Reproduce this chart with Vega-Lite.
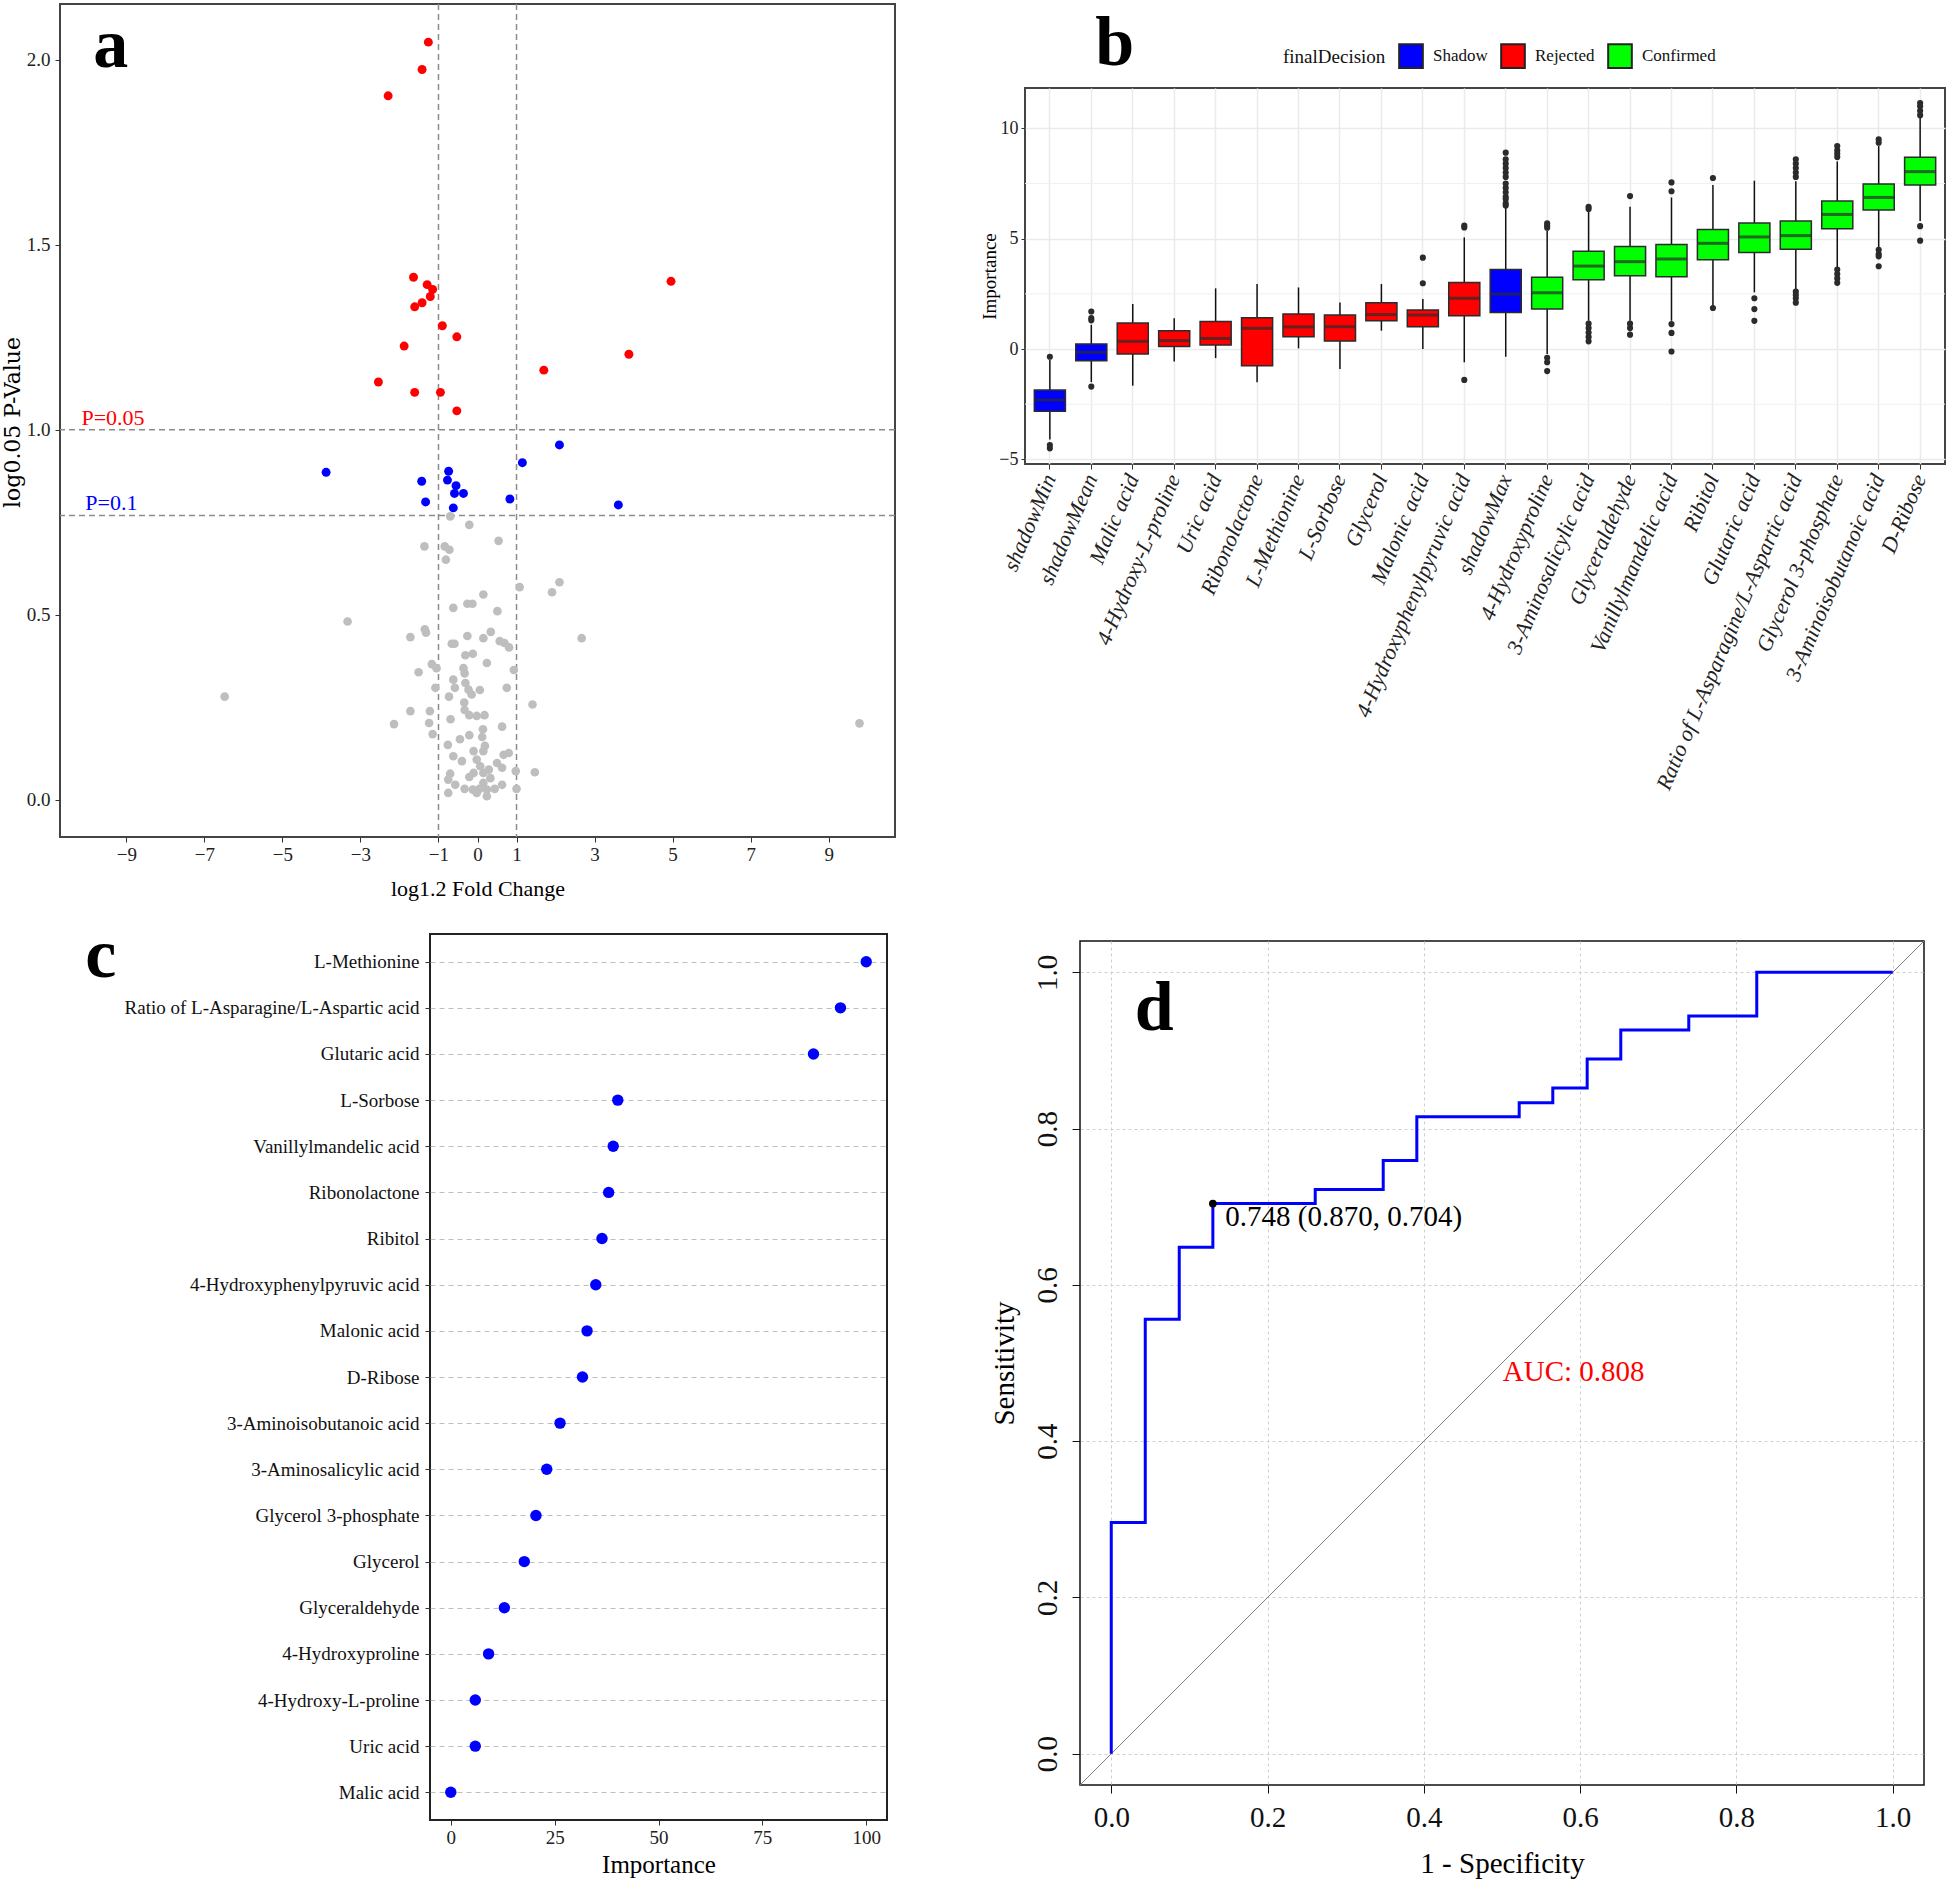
{
  "$schema": "https://vega.github.io/schema/vega-lite/v6.json",
  "background": "white",
  "padding": {"left": 0, "top": 0, "right": 0, "bottom": 0},
  "config": {
    "font": "Liberation Serif",
    "view": {"stroke": "#333333", "strokeWidth": 2},
    "axis": {"labelFont": "Liberation Serif", "titleFont": "Liberation Serif", "labelColor": "#222222", "titleColor": "#000000", "tickColor": "#333333", "domain": false, "grid": false, "titleFontWeight": "normal"}
  },
  "datasets": {
    "volcano": [
      {"fc": -1.26, "p": 2.047, "g": "sig"}, {"fc": -1.42, "p": 1.973, "g": "sig"}, {"fc": -2.29, "p": 1.902, "g": "sig"},
      {"fc": -1.64, "p": 1.412, "g": "sig"}, {"fc": -1.29, "p": 1.392, "g": "sig"}, {"fc": -1.15, "p": 1.379, "g": "sig"},
      {"fc": -1.21, "p": 1.36, "g": "sig"}, {"fc": -1.42, "p": 1.343, "g": "sig"}, {"fc": -1.61, "p": 1.332, "g": "sig"},
      {"fc": 4.96, "p": 1.401, "g": "sig"}, {"fc": -0.9, "p": 1.281, "g": "sig"}, {"fc": -0.53, "p": 1.251, "g": "sig"},
      {"fc": -1.88, "p": 1.226, "g": "sig"}, {"fc": 3.88, "p": 1.204, "g": "sig"}, {"fc": 1.7, "p": 1.161, "g": "sig"},
      {"fc": -2.54, "p": 1.129, "g": "sig"}, {"fc": -1.61, "p": 1.101, "g": "sig"}, {"fc": -0.95, "p": 1.101, "g": "sig"},
      {"fc": -0.53, "p": 1.051, "g": "sig"},
      {"fc": 2.1, "p": 0.959, "g": "trend"}, {"fc": 1.15, "p": 0.911, "g": "trend"}, {"fc": -3.88, "p": 0.885, "g": "trend"},
      {"fc": -0.74, "p": 0.888, "g": "trend"}, {"fc": -0.77, "p": 0.864, "g": "trend"}, {"fc": -1.43, "p": 0.861, "g": "trend"},
      {"fc": -0.55, "p": 0.849, "g": "trend"}, {"fc": -0.59, "p": 0.828, "g": "trend"}, {"fc": -0.36, "p": 0.828, "g": "trend"},
      {"fc": -1.33, "p": 0.805, "g": "trend"}, {"fc": 0.83, "p": 0.813, "g": "trend"}, {"fc": 3.61, "p": 0.797, "g": "trend"},
      {"fc": -0.62, "p": 0.789, "g": "trend"},
      {"fc": -0.7, "p": 0.766, "g": "ns"}, {"fc": -0.21, "p": 0.743, "g": "ns"}, {"fc": -1.36, "p": 0.685, "g": "ns"},
      {"fc": -0.84, "p": 0.685, "g": "ns"}, {"fc": -0.72, "p": 0.676, "g": "ns"}, {"fc": -0.81, "p": 0.649, "g": "ns"},
      {"fc": 0.54, "p": 0.7, "g": "ns"}, {"fc": 1.08, "p": 0.575, "g": "ns"}, {"fc": 1.91, "p": 0.561, "g": "ns"},
      {"fc": 2.1, "p": 0.588, "g": "ns"}, {"fc": 0.15, "p": 0.555, "g": "ns"}, {"fc": -0.26, "p": 0.53, "g": "ns"},
      {"fc": -0.13, "p": 0.53, "g": "ns"}, {"fc": -0.62, "p": 0.519, "g": "ns"}, {"fc": 0.51, "p": 0.51, "g": "ns"},
      {"fc": -1.72, "p": 0.44, "g": "ns"}, {"fc": -1.35, "p": 0.461, "g": "ns"}, {"fc": -1.32, "p": 0.452, "g": "ns"},
      {"fc": -0.66, "p": 0.422, "g": "ns"}, {"fc": -0.59, "p": 0.422, "g": "ns"}, {"fc": -0.26, "p": 0.443, "g": "ns"},
      {"fc": 0.15, "p": 0.437, "g": "ns"}, {"fc": 0.34, "p": 0.454, "g": "ns"}, {"fc": 0.57, "p": 0.429, "g": "ns"},
      {"fc": 0.69, "p": 0.424, "g": "ns"}, {"fc": 0.81, "p": 0.412, "g": "ns"}, {"fc": 2.67, "p": 0.437, "g": "ns"},
      {"fc": -0.31, "p": 0.391, "g": "ns"}, {"fc": -0.12, "p": 0.395, "g": "ns"}, {"fc": 0.24, "p": 0.37, "g": "ns"},
      {"fc": -1.17, "p": 0.367, "g": "ns"}, {"fc": -1.05, "p": 0.356, "g": "ns"}, {"fc": -1.51, "p": 0.345, "g": "ns"},
      {"fc": -0.36, "p": 0.356, "g": "ns"}, {"fc": -0.33, "p": 0.342, "g": "ns"}, {"fc": 0.93, "p": 0.351, "g": "ns"},
      {"fc": -0.62, "p": 0.325, "g": "ns"}, {"fc": -0.58, "p": 0.303, "g": "ns"}, {"fc": -0.31, "p": 0.316, "g": "ns"},
      {"fc": -0.23, "p": 0.298, "g": "ns"}, {"fc": -0.15, "p": 0.285, "g": "ns"}, {"fc": 0.06, "p": 0.297, "g": "ns"},
      {"fc": 0.75, "p": 0.303, "g": "ns"}, {"fc": -1.08, "p": 0.303, "g": "ns"}, {"fc": -0.73, "p": 0.279, "g": "ns"},
      {"fc": -0.34, "p": 0.263, "g": "ns"}, {"fc": -0.33, "p": 0.243, "g": "ns"}, {"fc": -0.21, "p": 0.229, "g": "ns"},
      {"fc": -0.02, "p": 0.227, "g": "ns"}, {"fc": 0.18, "p": 0.229, "g": "ns"}, {"fc": 1.41, "p": 0.258, "g": "ns"},
      {"fc": -1.72, "p": 0.24, "g": "ns"}, {"fc": -1.22, "p": 0.24, "g": "ns"}, {"fc": -2.14, "p": 0.205, "g": "ns"},
      {"fc": -1.24, "p": 0.208, "g": "ns"}, {"fc": -1.15, "p": 0.178, "g": "ns"}, {"fc": -0.69, "p": 0.218, "g": "ns"},
      {"fc": 0.63, "p": 0.198, "g": "ns"}, {"fc": 0.14, "p": 0.191, "g": "ns"}, {"fc": -0.45, "p": 0.164, "g": "ns"},
      {"fc": -0.21, "p": 0.175, "g": "ns"}, {"fc": -0.76, "p": 0.149, "g": "ns"}, {"fc": 0.12, "p": 0.17, "g": "ns"},
      {"fc": -0.62, "p": 0.118, "g": "ns"}, {"fc": -0.4, "p": 0.105, "g": "ns"}, {"fc": -0.1, "p": 0.132, "g": "ns"},
      {"fc": 0.15, "p": 0.132, "g": "ns"}, {"fc": 0.19, "p": 0.146, "g": "ns"}, {"fc": -0.02, "p": 0.109, "g": "ns"},
      {"fc": 0.07, "p": 0.091, "g": "ns"}, {"fc": 0.15, "p": 0.073, "g": "ns"}, {"fc": 0.29, "p": 0.082, "g": "ns"},
      {"fc": 0.5, "p": 0.1, "g": "ns"}, {"fc": 0.63, "p": 0.087, "g": "ns"}, {"fc": 0.67, "p": 0.122, "g": "ns"},
      {"fc": 0.8, "p": 0.127, "g": "ns"}, {"fc": -0.1, "p": 0.073, "g": "ns"}, {"fc": -0.21, "p": 0.062, "g": "ns"},
      {"fc": -0.7, "p": 0.071, "g": "ns"}, {"fc": -0.75, "p": 0.055, "g": "ns"}, {"fc": -0.57, "p": 0.041, "g": "ns"},
      {"fc": -0.33, "p": 0.03, "g": "ns"}, {"fc": -0.12, "p": 0.028, "g": "ns"}, {"fc": 0.05, "p": 0.03, "g": "ns"},
      {"fc": 0.24, "p": 0.01, "g": "ns"}, {"fc": 0.44, "p": 0.03, "g": "ns"}, {"fc": 0.63, "p": 0.041, "g": "ns"},
      {"fc": 0.15, "p": 0.046, "g": "ns"}, {"fc": 0.33, "p": 0.059, "g": "ns"}, {"fc": -0.75, "p": 0.019, "g": "ns"},
      {"fc": 0.98, "p": 0.078, "g": "ns"}, {"fc": 1.0, "p": 0.03, "g": "ns"}, {"fc": 1.47, "p": 0.075, "g": "ns"},
      {"fc": -0.02, "p": 0.019, "g": "ns"}, {"fc": 0.24, "p": 0.028, "g": "ns"}, {"fc": -3.33, "p": 0.482, "g": "ns"},
      {"fc": -6.48, "p": 0.279, "g": "ns"}, {"fc": 9.79, "p": 0.207, "g": "ns"}
    ],
    "boxes": [
      {"name": "shadowMin", "decision": "Shadow", "lo": -4.1, "q1": -2.82, "med": -2.31, "q3": -1.86, "hi": -0.5},
      {"name": "shadowMean", "decision": "Shadow", "lo": -1.5, "q1": -0.53, "med": -0.15, "q3": 0.23, "hi": 1.1},
      {"name": "Malic acid", "decision": "Rejected", "lo": -1.66, "q1": -0.23, "med": 0.35, "q3": 1.18, "hi": 2.04},
      {"name": "4-Hydroxy-L-proline", "decision": "Rejected", "lo": -0.56, "q1": 0.11, "med": 0.38, "q3": 0.83, "hi": 1.4},
      {"name": "Uric acid", "decision": "Rejected", "lo": -0.41, "q1": 0.18, "med": 0.48, "q3": 1.25, "hi": 2.75},
      {"name": "Ribonolactone", "decision": "Rejected", "lo": -1.51, "q1": -0.76, "med": 0.94, "q3": 1.42, "hi": 2.95},
      {"name": "L-Methionine", "decision": "Rejected", "lo": 0.03, "q1": 0.56, "med": 1.0, "q3": 1.59, "hi": 2.79},
      {"name": "L-Sorbose", "decision": "Rejected", "lo": -0.91, "q1": 0.36, "med": 1.01, "q3": 1.54, "hi": 2.11},
      {"name": "Glycerol", "decision": "Rejected", "lo": 0.83, "q1": 1.28, "med": 1.56, "q3": 2.1, "hi": 2.95},
      {"name": "Malonic acid", "decision": "Rejected", "lo": 0.0, "q1": 1.01, "med": 1.54, "q3": 1.77, "hi": 2.27},
      {"name": "4-Hydroxyphenylpyruvic acid", "decision": "Rejected", "lo": -0.6, "q1": 1.51, "med": 2.3, "q3": 3.02, "hi": 5.06},
      {"name": "shadowMax", "decision": "Shadow", "lo": -0.35, "q1": 1.66, "med": 2.49, "q3": 3.61, "hi": 6.42},
      {"name": "4-Hydroxyproline", "decision": "Confirmed", "lo": -0.23, "q1": 1.81, "med": 2.55, "q3": 3.25, "hi": 5.36},
      {"name": "3-Aminosalicylic acid", "decision": "Confirmed", "lo": 1.28, "q1": 3.14, "med": 3.76, "q3": 4.43, "hi": 6.27},
      {"name": "Glyceraldehyde", "decision": "Confirmed", "lo": 1.28, "q1": 3.32, "med": 3.96, "q3": 4.65, "hi": 6.45},
      {"name": "Vanillylmandelic acid", "decision": "Confirmed", "lo": 1.28, "q1": 3.28, "med": 4.08, "q3": 4.74, "hi": 6.87},
      {"name": "Ribitol", "decision": "Confirmed", "lo": 1.96, "q1": 4.05, "med": 4.79, "q3": 5.42, "hi": 7.43},
      {"name": "Glutaric acid", "decision": "Confirmed", "lo": 2.57, "q1": 4.37, "med": 5.08, "q3": 5.71, "hi": 7.63},
      {"name": "Ratio of L-Asparagine/L-Aspartic acid", "decision": "Confirmed", "lo": 2.64, "q1": 4.52, "med": 5.14, "q3": 5.8, "hi": 7.6},
      {"name": "Glycerol 3-phosphate", "decision": "Confirmed", "lo": 3.7, "q1": 5.45, "med": 6.1, "q3": 6.71, "hi": 8.5},
      {"name": "3-Aminoisobutanoic acid", "decision": "Confirmed", "lo": 4.61, "q1": 6.3, "med": 6.87, "q3": 7.48, "hi": 9.2},
      {"name": "D-Ribose", "decision": "Confirmed", "lo": 5.8, "q1": 7.43, "med": 8.04, "q3": 8.69, "hi": 10.5}
    ],
    "outliers": [
      {"name": "shadowMin", "v": -0.35}, {"name": "shadowMin", "v": -4.35}, {"name": "shadowMin", "v": -4.5},
      {"name": "shadowMean", "v": 1.3}, {"name": "shadowMean", "v": 1.4}, {"name": "shadowMean", "v": 1.7}, {"name": "shadowMean", "v": -1.7},
      {"name": "Malonic acid", "v": 2.98}, {"name": "Malonic acid", "v": 4.14},
      {"name": "4-Hydroxyphenylpyruvic acid", "v": 5.51}, {"name": "4-Hydroxyphenylpyruvic acid", "v": 5.6}, {"name": "4-Hydroxyphenylpyruvic acid", "v": -1.4},
      {"name": "shadowMax", "v": 6.5}, {"name": "shadowMax", "v": 6.6}, {"name": "shadowMax", "v": 6.8}, {"name": "shadowMax", "v": 6.9},
      {"name": "shadowMax", "v": 7.1}, {"name": "shadowMax", "v": 7.3}, {"name": "shadowMax", "v": 7.5}, {"name": "shadowMax", "v": 7.8},
      {"name": "shadowMax", "v": 8.0}, {"name": "shadowMax", "v": 8.2}, {"name": "shadowMax", "v": 8.4}, {"name": "shadowMax", "v": 8.6},
      {"name": "shadowMax", "v": 8.9},
      {"name": "4-Hydroxyproline", "v": 5.5}, {"name": "4-Hydroxyproline", "v": 5.6}, {"name": "4-Hydroxyproline", "v": 5.7},
      {"name": "4-Hydroxyproline", "v": -0.4}, {"name": "4-Hydroxyproline", "v": -0.6}, {"name": "4-Hydroxyproline", "v": -1.0},
      {"name": "3-Aminosalicylic acid", "v": 6.35}, {"name": "3-Aminosalicylic acid", "v": 6.45}, {"name": "3-Aminosalicylic acid", "v": 1.15},
      {"name": "3-Aminosalicylic acid", "v": 0.95}, {"name": "3-Aminosalicylic acid", "v": 0.75}, {"name": "3-Aminosalicylic acid", "v": 0.55},
      {"name": "3-Aminosalicylic acid", "v": 0.35},
      {"name": "Glyceraldehyde", "v": 6.93}, {"name": "Glyceraldehyde", "v": 1.15}, {"name": "Glyceraldehyde", "v": 0.95}, {"name": "Glyceraldehyde", "v": 0.65},
      {"name": "Vanillylmandelic acid", "v": 7.15}, {"name": "Vanillylmandelic acid", "v": 7.55}, {"name": "Vanillylmandelic acid", "v": 1.13},
      {"name": "Vanillylmandelic acid", "v": 0.73}, {"name": "Vanillylmandelic acid", "v": -0.11},
      {"name": "Ribitol", "v": 7.75}, {"name": "Ribitol", "v": 1.86},
      {"name": "Glutaric acid", "v": 2.3}, {"name": "Glutaric acid", "v": 1.81}, {"name": "Glutaric acid", "v": 1.28},
      {"name": "Ratio of L-Asparagine/L-Aspartic acid", "v": 7.8}, {"name": "Ratio of L-Asparagine/L-Aspartic acid", "v": 8.0},
      {"name": "Ratio of L-Asparagine/L-Aspartic acid", "v": 8.2}, {"name": "Ratio of L-Asparagine/L-Aspartic acid", "v": 8.4},
      {"name": "Ratio of L-Asparagine/L-Aspartic acid", "v": 8.6}, {"name": "Ratio of L-Asparagine/L-Aspartic acid", "v": 2.6},
      {"name": "Ratio of L-Asparagine/L-Aspartic acid", "v": 2.45}, {"name": "Ratio of L-Asparagine/L-Aspartic acid", "v": 2.3},
      {"name": "Ratio of L-Asparagine/L-Aspartic acid", "v": 2.1},
      {"name": "Glycerol 3-phosphate", "v": 8.7}, {"name": "Glycerol 3-phosphate", "v": 8.85}, {"name": "Glycerol 3-phosphate", "v": 9.0},
      {"name": "Glycerol 3-phosphate", "v": 9.2}, {"name": "Glycerol 3-phosphate", "v": 3.6}, {"name": "Glycerol 3-phosphate", "v": 3.4},
      {"name": "Glycerol 3-phosphate", "v": 3.2}, {"name": "Glycerol 3-phosphate", "v": 3.0},
      {"name": "3-Aminoisobutanoic acid", "v": 9.35}, {"name": "3-Aminoisobutanoic acid", "v": 9.5}, {"name": "3-Aminoisobutanoic acid", "v": 4.5},
      {"name": "3-Aminoisobutanoic acid", "v": 4.3}, {"name": "3-Aminoisobutanoic acid", "v": 4.2}, {"name": "3-Aminoisobutanoic acid", "v": 3.75},
      {"name": "D-Ribose", "v": 10.6}, {"name": "D-Ribose", "v": 10.8}, {"name": "D-Ribose", "v": 11.0}, {"name": "D-Ribose", "v": 11.15},
      {"name": "D-Ribose", "v": 5.57}, {"name": "D-Ribose", "v": 4.91}
    ],
    "importance": [
      {"name": "L-Methionine", "imp": 100}, {"name": "Ratio of L-Asparagine/L-Aspartic acid", "imp": 93.8},
      {"name": "Glutaric acid", "imp": 87.3}, {"name": "L-Sorbose", "imp": 40.2}, {"name": "Vanillylmandelic acid", "imp": 39.1},
      {"name": "Ribonolactone", "imp": 38.0}, {"name": "Ribitol", "imp": 36.4}, {"name": "4-Hydroxyphenylpyruvic acid", "imp": 34.9},
      {"name": "Malonic acid", "imp": 32.8}, {"name": "D-Ribose", "imp": 31.7}, {"name": "3-Aminoisobutanoic acid", "imp": 26.3},
      {"name": "3-Aminosalicylic acid", "imp": 23.1}, {"name": "Glycerol 3-phosphate", "imp": 20.5}, {"name": "Glycerol", "imp": 17.7},
      {"name": "Glyceraldehyde", "imp": 12.9}, {"name": "4-Hydroxyproline", "imp": 9.1}, {"name": "4-Hydroxy-L-proline", "imp": 5.9},
      {"name": "Uric acid", "imp": 5.9}, {"name": "Malic acid", "imp": 0}
    ],
    "roc": [
      {"ord": 0, "fpr": 0, "tpr": 0}, {"ord": 1, "fpr": 0, "tpr": 0.296}, {"ord": 2, "fpr": 0.0435, "tpr": 0.556},
      {"ord": 3, "fpr": 0.087, "tpr": 0.648}, {"ord": 4, "fpr": 0.13, "tpr": 0.704}, {"ord": 5, "fpr": 0.261, "tpr": 0.722},
      {"ord": 6, "fpr": 0.348, "tpr": 0.759}, {"ord": 7, "fpr": 0.391, "tpr": 0.815}, {"ord": 8, "fpr": 0.522, "tpr": 0.833},
      {"ord": 9, "fpr": 0.565, "tpr": 0.852}, {"ord": 10, "fpr": 0.609, "tpr": 0.889}, {"ord": 11, "fpr": 0.652, "tpr": 0.926},
      {"ord": 12, "fpr": 0.739, "tpr": 0.944}, {"ord": 13, "fpr": 0.826, "tpr": 1.0}, {"ord": 14, "fpr": 1.0, "tpr": 1.0}
    ]
  },
  "resolve": {"scale": {"color": "independent"}, "legend": {"color": "independent"}},
  "bounds": "full",
  "spacing": 19,
  "vconcat": [
    {
      "bounds": "flush",
      "spacing": 130,
      "resolve": {"scale": {"color": "independent"}, "legend": {"color": "independent"}},
      "hconcat": [
        {
          "width": 835,
          "height": 833,
          "view": {"stroke": "#444444", "strokeWidth": 2},
          "layer": [
            {
              "data": {"values": [{"fc": -1}, {"fc": 1}]},
              "mark": {"type": "rule", "color": "#8c8c8c", "strokeWidth": 1.5, "strokeDash": [6, 4]},
              "encoding": {"x": {"field": "fc", "type": "quantitative", "scale": {"domain": [-10.7, 10.7], "nice": false, "zero": false}}}
            },
            {
              "data": {"values": [{"p": 1.0}, {"p": 0.7686}]},
              "mark": {"type": "rule", "color": "#8c8c8c", "strokeWidth": 1.5, "strokeDash": [6, 4]},
              "encoding": {"y": {"field": "p", "type": "quantitative", "scale": {"domain": [-0.1, 2.15], "nice": false, "zero": false}}}
            },
            {
              "data": {"name": "volcano"},
              "transform": [{"filter": "datum.g === 'ns'"}],
              "mark": {"type": "circle", "size": 75, "opacity": 1, "color": "#BEBEBE"},
              "encoding": {
                "x": {"field": "fc", "type": "quantitative", "scale": {"domain": [-10.7, 10.7], "nice": false, "zero": false},
                  "axis": {"values": [-9, -7, -5, -3, -1, 0, 1, 3, 5, 7, 9], "title": "log1.2 Fold Change", "labelFontSize": 19, "titleFontSize": 22, "tickSize": 5, "labelPadding": 3, "titleBaseline": "alphabetic", "titleY": 58}},
                "y": {"field": "p", "type": "quantitative", "scale": {"domain": [-0.1, 2.15], "nice": false, "zero": false},
                  "axis": {"values": [0, 0.5, 1, 1.5, 2], "format": ".1f", "title": "log0.05 P-Value", "titleFont": "DejaVu Serif", "titleFontSize": 22, "labelFontSize": 19, "tickSize": 5, "labelPadding": 5, "titleAngle": 270, "titleBaseline": "alphabetic", "titleX": -41, "titleY": 418}}
              }
            },
            {
              "data": {"name": "volcano"},
              "transform": [{"filter": "datum.g === 'trend'"}],
              "mark": {"type": "circle", "size": 80, "opacity": 1, "color": "#0000FF"},
              "encoding": {
                "x": {"field": "fc", "type": "quantitative"},
                "y": {"field": "p", "type": "quantitative"}
              }
            },
            {
              "data": {"name": "volcano"},
              "transform": [{"filter": "datum.g === 'sig'"}],
              "mark": {"type": "circle", "size": 80, "opacity": 1, "color": "#FF0000"},
              "encoding": {
                "x": {"field": "fc", "type": "quantitative"},
                "y": {"field": "p", "type": "quantitative"}
              }
            },
            {
              "data": {"values": [{}]},
              "mark": {"type": "text", "color": "#FF0000", "align": "left", "baseline": "alphabetic", "fontSize": 22, "font": "Liberation Serif"},
              "encoding": {"x": {"datum": -10.15}, "y": {"datum": 1.012}, "text": {"value": "P=0.05"}}
            },
            {
              "data": {"values": [{}]},
              "mark": {"type": "text", "color": "#0000FF", "align": "left", "baseline": "alphabetic", "fontSize": 22, "font": "Liberation Serif"},
              "encoding": {"x": {"datum": -10.05}, "y": {"datum": 0.782}, "text": {"value": "P=0.1"}}
            },
            {
              "data": {"values": [{}]},
              "mark": {"type": "text", "color": "#000000", "align": "left", "baseline": "alphabetic", "fontSize": 70, "fontWeight": "bold", "font": "Liberation Serif"},
              "encoding": {"x": {"datum": -9.85}, "y": {"datum": 1.981}, "text": {"value": "a"}}
            }
          ]
        },
        {
          "bounds": "flush",
          "spacing": 80,
          "resolve": {"scale": {"color": "independent"}, "legend": {"color": "independent"}},
          "vconcat": [
            {
              "width": 920,
              "height": 4,
              "view": {"stroke": null},
              "data": {"values": [{}]},
              "mark": {"type": "text"},
              "encoding": {"text": {"value": ""}}
            },
            {
              "width": 920,
              "height": 376,
              "view": {"stroke": "#444444", "strokeWidth": 2},
              "layer": [
                {
                  "data": {"values": [{"g": -2.5}, {"g": 2.5}, {"g": 7.5}]},
                  "mark": {"type": "rule", "color": "#F0F0F0", "strokeWidth": 1},
                  "encoding": {"y": {"field": "g", "type": "quantitative", "scale": {"domain": [-5.21, 11.83], "nice": false, "zero": false}}}
                },
                {
                  "data": {"name": "boxes"},
                  "mark": {"type": "rule", "color": "#111111", "strokeWidth": 1.5},
                  "encoding": {
                    "x": {"field": "name", "type": "nominal", "sort": null,
                      "scale": {"type": "band", "paddingInner": 0.25, "paddingOuter": 0.225, "domain": ["shadowMin", "shadowMean", "Malic acid", "4-Hydroxy-L-proline", "Uric acid", "Ribonolactone", "L-Methionine", "L-Sorbose", "Glycerol", "Malonic acid", "4-Hydroxyphenylpyruvic acid", "shadowMax", "4-Hydroxyproline", "3-Aminosalicylic acid", "Glyceraldehyde", "Vanillylmandelic acid", "Ribitol", "Glutaric acid", "Ratio of L-Asparagine/L-Aspartic acid", "Glycerol 3-phosphate", "3-Aminoisobutanoic acid", "D-Ribose"]},
                      "axis": {"title": null, "labelAngle": -67, "labelAlign": "right", "labelBaseline": "middle", "labelFontStyle": "italic", "labelFontSize": 22, "labelColor": "#222222", "tickSize": 5, "labelPadding": 6, "grid": true, "gridColor": "#EBEBEB", "gridWidth": 1.5, "bandPosition": 0.5, "labelLimit": 0}},
                    "y": {"field": "lo", "type": "quantitative", "scale": {"domain": [-5.21, 11.83], "nice": false, "zero": false},
                      "axis": {"values": [-5, 0, 5, 10], "title": "Importance", "titleFontSize": 19, "labelFontSize": 18, "tickSize": 4, "labelPadding": 3, "grid": true, "gridColor": "#EBEBEB", "gridWidth": 1.5, "titleAngle": 270, "titleBaseline": "alphabetic", "titleX": -30, "titleY": 188}},
                    "y2": {"field": "hi"}
                  }
                },
                {
                  "data": {"name": "boxes"},
                  "mark": {"type": "bar", "stroke": "#2b2b2b", "strokeWidth": 1.5},
                  "encoding": {
                    "x": {"field": "name", "type": "nominal", "sort": null},
                    "y": {"field": "q1", "type": "quantitative"},
                    "y2": {"field": "q3"},
                    "color": {"field": "decision", "type": "nominal",
                      "scale": {"domain": ["Shadow", "Rejected", "Confirmed"], "range": ["#0000FF", "#FF0000", "#00FF00"]},
                      "legend": {"orient": "none", "legendX": 258, "legendY": -45, "direction": "horizontal", "title": "finalDecision", "titleOrient": "left", "titleFont": "Liberation Serif", "titleFontSize": 19, "titleFontWeight": "normal", "titleColor": "#111111", "labelFont": "Liberation Serif", "labelFontSize": 17, "labelColor": "#111111", "symbolType": "square", "symbolSize": 560, "symbolStrokeWidth": 2, "symbolStrokeColor": "#222222", "symbolOpacity": 1, "labelOffset": 9, "columnPadding": 9, "titlePadding": 12, "titleBaseline": "middle"}}
                  }
                },
                {
                  "data": {"name": "boxes"},
                  "mark": {"type": "tick", "color": "#2b2b2b", "thickness": 3, "size": 31},
                  "encoding": {
                    "x": {"field": "name", "type": "nominal", "sort": null},
                    "y": {"field": "med", "type": "quantitative"}
                  }
                },
                {
                  "data": {"name": "outliers"},
                  "mark": {"type": "circle", "color": "#2b2b2b", "size": 38, "opacity": 1},
                  "encoding": {
                    "x": {"field": "name", "type": "nominal", "sort": null},
                    "y": {"field": "v", "type": "quantitative"}
                  }
                },
                {
                  "data": {"values": [{}]},
                  "mark": {"type": "text", "color": "#000000", "align": "left", "baseline": "alphabetic", "fontSize": 70, "fontWeight": "bold", "font": "Liberation Serif", "dx": 4},
                  "encoding": {"x": {"datum": "shadowMean"}, "y": {"datum": 12.85, "scale": {"domain": [-5.21, 11.83], "nice": false, "zero": false}}, "text": {"value": "b"}}
                }
              ]
            }
          ]
        }
      ]
    },
    {
      "bounds": "flush",
      "spacing": 193,
      "hconcat": [
        {
          "width": 177,
          "height": 4,
          "view": {"stroke": null},
          "data": {"values": [{}]},
          "mark": {"type": "text"},
          "encoding": {"text": {"value": ""}}
        },
        {
          "width": 457,
          "height": 886,
          "view": {"stroke": "#222222", "strokeWidth": 2},
          "layer": [
            {
              "data": {"name": "importance"},
              "mark": {"type": "circle", "size": 130, "color": "#0000FF", "opacity": 1},
              "encoding": {
                "x": {"field": "imp", "type": "quantitative", "scale": {"domain": [-5, 105], "nice": false, "zero": false},
                  "axis": {"values": [0, 25, 50, 75, 100], "title": "Importance", "labelFontSize": 19, "titleFontSize": 25, "tickSize": 5, "labelPadding": 3, "titleBaseline": "alphabetic", "titleY": 52}},
                "y": {"field": "name", "type": "nominal", "sort": null,
                  "scale": {"type": "point", "padding": 0.6, "domain": ["L-Methionine", "Ratio of L-Asparagine/L-Aspartic acid", "Glutaric acid", "L-Sorbose", "Vanillylmandelic acid", "Ribonolactone", "Ribitol", "4-Hydroxyphenylpyruvic acid", "Malonic acid", "D-Ribose", "3-Aminoisobutanoic acid", "3-Aminosalicylic acid", "Glycerol 3-phosphate", "Glycerol", "Glyceraldehyde", "4-Hydroxyproline", "4-Hydroxy-L-proline", "Uric acid", "Malic acid"]},
                  "axis": {"title": null, "labelFontSize": 19, "labelColor": "#111111", "tickSize": 5, "labelPadding": 6, "grid": true, "gridDash": [5, 4], "gridColor": "#BEBEBE", "gridWidth": 1, "labelLimit": 0}}
              }
            },
            {
              "data": {"values": [{}]},
              "mark": {"type": "text", "color": "#000000", "align": "left", "baseline": "alphabetic", "fontSize": 70, "fontWeight": "bold", "font": "Liberation Serif", "dy": 15},
              "encoding": {"x": {"datum": -88, "scale": {"domain": [-5, 105], "nice": false, "zero": false}}, "y": {"datum": "L-Methionine"}, "text": {"value": "c"}}
            }
          ]
        },
        {
          "bounds": "flush",
          "spacing": 6,
          "vconcat": [
            {
              "width": 844,
              "height": 1,
              "view": {"stroke": null},
              "data": {"values": [{}]},
              "mark": {"type": "text"},
              "encoding": {"text": {"value": ""}}
            },
            {
              "width": 844,
              "height": 844,
              "view": {"stroke": "#111111", "strokeWidth": 1.5},
              "layer": [
                {
                  "data": {"values": [{"fpr": -0.04, "tpr": -0.04}, {"fpr": 1.04, "tpr": 1.04}]},
                  "mark": {"type": "line", "color": "#808080", "strokeWidth": 1, "clip": true},
                  "encoding": {
                    "x": {"field": "fpr", "type": "quantitative", "scale": {"domain": [-0.04, 1.04], "nice": false, "zero": false},
                      "axis": {"values": [0, 0.2, 0.4, 0.6, 0.8, 1.0], "format": ".1f", "title": "1 - Specificity", "labelFontSize": 29, "titleFontSize": 29, "labelColor": "#111111", "tickSize": 8, "tickColor": "#111111", "labelPadding": 10, "grid": true, "gridDash": [3, 3], "gridColor": "#CFCFCF", "gridWidth": 1, "titleBaseline": "alphabetic", "titleY": 87}},
                    "y": {"field": "tpr", "type": "quantitative", "scale": {"domain": [-0.04, 1.04], "nice": false, "zero": false},
                      "axis": {"values": [0, 0.2, 0.4, 0.6, 0.8, 1.0], "format": ".1f", "title": "Sensitivity", "labelFontSize": 29, "titleFontSize": 29, "labelColor": "#111111", "tickSize": 8, "tickColor": "#111111", "labelAngle": -90, "labelAlign": "center", "labelBaseline": "alphabetic", "labelPadding": 16, "grid": true, "gridDash": [3, 3], "gridColor": "#CFCFCF", "gridWidth": 1, "titleAngle": 270, "titleBaseline": "alphabetic", "titleX": -67, "titleY": 422}}
                  }
                },
                {
                  "data": {"name": "roc"},
                  "mark": {"type": "line", "color": "#0000FF", "strokeWidth": 3, "interpolate": "step-after"},
                  "encoding": {
                    "x": {"field": "fpr", "type": "quantitative"},
                    "y": {"field": "tpr", "type": "quantitative"},
                    "order": {"field": "ord", "type": "quantitative"}
                  }
                },
                {
                  "data": {"values": [{}]},
                  "mark": {"type": "circle", "color": "#000000", "size": 60, "opacity": 1},
                  "encoding": {"x": {"datum": 0.13}, "y": {"datum": 0.704}}
                },
                {
                  "data": {"values": [{}]},
                  "mark": {"type": "text", "color": "#000000", "align": "left", "baseline": "alphabetic", "fontSize": 29, "font": "Liberation Serif"},
                  "encoding": {"x": {"datum": 0.146}, "y": {"datum": 0.675}, "text": {"value": "0.748 (0.870, 0.704)"}}
                },
                {
                  "data": {"values": [{}]},
                  "mark": {"type": "text", "color": "#FF0000", "align": "left", "baseline": "alphabetic", "fontSize": 29, "font": "Liberation Serif"},
                  "encoding": {"x": {"datum": 0.501}, "y": {"datum": 0.477}, "text": {"value": "AUC: 0.808"}}
                },
                {
                  "data": {"values": [{}]},
                  "mark": {"type": "text", "color": "#000000", "align": "left", "baseline": "alphabetic", "fontSize": 70, "fontWeight": "bold", "font": "Liberation Serif"},
                  "encoding": {"x": {"datum": 0.03}, "y": {"datum": 0.926}, "text": {"value": "d"}}
                }
              ]
            }
          ]
        }
      ]
    }
  ]
}
